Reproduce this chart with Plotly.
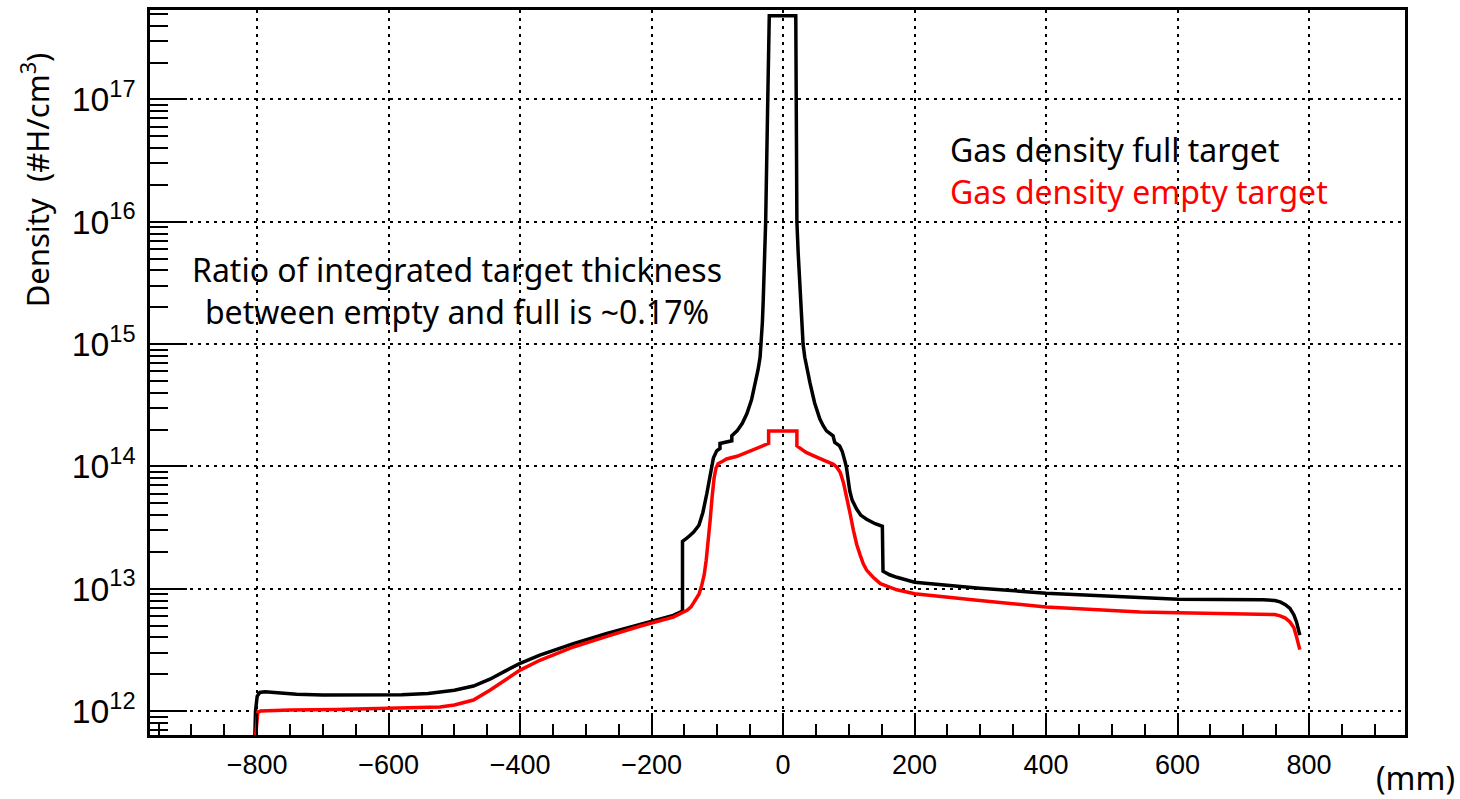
import plotly.graph_objects as go

# Gas density along the beam axis (mm), full target
x_full = [-804, -802.5, -800, -796, -788, -770, -740, -700, -640, -580, -540, -522,
          -500, -471, -446, -420, -400, -370, -319, -268, -218, -167, -153, -153,
          -146, -136, -128, -122, -116, -110, -106, -101, -96, -96, -78, -78, -70,
          -62, -55, -48, -43, -38, -35, -33.5, -31.5, -30.3, -28.5, -26.5, -23.3, -21,
          19.3, 19.5, 21, 23, 26, 28.5, 30.4, 33, 36, 41, 48, 55.8, 61, 66, 76, 78.6,
          86, 90, 94, 96.4, 101.4, 105, 111.6, 118, 127, 140, 151, 152, 162, 173,
          200, 250, 299, 400, 543, 601, 730, 748, 756, 764, 771, 777, 781, 786]
d_full = [5e11, 1.0e12, 1.32e12, 1.42e12, 1.44e12, 1.41e12, 1.37e12, 1.35e12, 1.35e12,
          1.36e12, 1.39e12, 1.42e12, 1.48e12, 1.6e12, 1.82e12, 2.16e12, 2.45e12,
          2.86e12, 3.56e12, 4.3e12, 5.08e12, 6.05e12, 6.56e12, 2.44e13, 2.6e13,
          2.9e13, 3.3e13, 4.2e13, 6e13, 9e13, 1.17e14, 1.34e14, 1.40e14, 1.54e14,
          1.62e14, 1.78e14, 1.95e14, 2.25e14, 2.7e14, 3.5e14, 4.6e14, 6.2e14, 7.8e14,
          1e15, 1.5e15, 2.2e15, 4.7e15, 1e16, 1e17, 4.84e17,
          4.84e17, 1e17, 1e16, 5.5e15, 2.5e15, 1.5e15, 1e15, 7.8e14, 6.3e14, 4.8e14,
          3.3e14, 2.45e14, 2.15e14, 1.95e14, 1.78e14, 1.57e14,
          1.47e14, 1.32e14, 1.11e14, 9.8e13, 6.3e13, 5.3e13, 4.5e13, 4.0e13, 3.7e13,
          3.4e13, 3.24e13, 1.39e13, 1.3e13, 1.24e13,
          1.13e13, 1.06e13, 1.01e13, 9.2e12, 8.45e12, 8.2e12, 8.13e12, 8.0e12, 7.8e12,
          7.4e12, 6.9e12, 6.1e12, 5.35e12, 4.17e12]

# Gas density along the beam axis (mm), empty target
x_empty = [-804, -801, -799, -795, -750, -680, -600, -522, -500, -471, -446, -420,
           -400, -370, -319, -268, -218, -167, -146, -140, -134, -128, -124, -120,
           -117, -114, -111, -108, -105, -102, -99, -92, -86, -70, -55, -40, -30,
           -22, -22, 21, 21, 35, 51, 65, 76.5, 82, 87, 92, 97, 102, 107, 112, 117,
           122, 127, 137, 148, 163, 173, 200, 250, 299, 400, 543, 601, 730, 748,
           756, 764, 771, 777, 781, 786]
d_empty = [5e11, 8e11, 9.8e11, 1.0e12, 1.02e12, 1.03e12, 1.06e12, 1.08e12, 1.12e12,
           1.23e12, 1.48e12, 1.85e12, 2.16e12, 2.6e12, 3.34e12, 4.08e12, 4.93e12,
           5.86e12, 6.66e12, 7.1e12, 7.9e12, 9.0e12, 1.05e13, 1.3e13, 1.7e13,
           2.4e13, 3.6e13, 5.6e13, 8.0e13, 9.7e13, 1.05e14, 1.1e14, 1.15e14, 1.21e14,
           1.31e14, 1.4e14, 1.47e14, 1.54e14, 1.95e14, 1.95e14, 1.47e14, 1.3e14,
           1.19e14, 1.1e14, 1.04e14, 9.8e13, 8.9e13, 7.3e13, 5.6e13, 4.1e13, 3.0e13,
           2.3e13, 1.9e13, 1.6e13, 1.42e13, 1.24e13, 1.1e13, 1.03e13, 9.8e12,
           9.1e12, 8.5e12, 8.0e12, 7.08e12, 6.44e12, 6.37e12, 6.25e12, 6.15e12,
           5.99e12, 5.75e12, 5.35e12, 4.8e12, 4.04e12, 3.18e12]

x_range = [-963, 946]
y_log_range = [11.804, 17.731]
x_tickvals = [-800, -600, -400, -200, 0, 200, 400, 600, 800]
x_ticktext = ["\u2212800", "\u2212600", "\u2212400", "\u2212200", "0", "200", "400", "600", "800"]

# plot-area geometry (px) used to place free text
W, H = 1460, 799
L, R, T, B = 150, 55, 7, 64
pw, ph = W - L - R, H - T - B


def px(xp):
    return (xp - L) / pw


def py(yp):
    return (H - B - yp) / ph


text_font = "Noto Sans, Open Sans, sans-serif"
tick_font = dict(family="Liberation Sans, Arial, sans-serif", size=27, color="black")

fig = go.Figure()
fig.add_trace(go.Scatter(x=x_full, y=d_full, mode="lines",
                         line=dict(color="black", width=3.5), showlegend=False))
fig.add_trace(go.Scatter(x=x_empty, y=d_empty, mode="lines",
                         line=dict(color="#ff0000", width=3.5), showlegend=False))

grid = dict(showgrid=True, gridcolor="black", gridwidth=2, griddash="3px,5px")

fig.update_xaxes(range=x_range, tickvals=x_tickvals, ticktext=x_ticktext,
                 ticks="inside", ticklen=22, tickwidth=2, tickcolor="black",
                 minor=dict(dtick=50, tick0=0, ticks="inside", ticklen=11,
                            tickwidth=2, tickcolor="black", showgrid=False),
                 showline=True, linewidth=3, linecolor="black", mirror=True,
                 zeroline=False, tickfont=tick_font, ticklabelstandoff=4, **grid)
fig.update_yaxes(type="log", range=y_log_range, dtick=1, exponentformat="power",
                 ticks="inside", ticklen=37, tickwidth=2, tickcolor="black",
                 minor=dict(dtick="D1", ticks="inside", ticklen=18, tickwidth=2,
                            tickcolor="black", showgrid=False),
                 showline=True, linewidth=3, linecolor="black", mirror=True,
                 zeroline=False, tickfont=tick_font, ticklabelstandoff=6, **grid)

annotations = [
    dict(text="Gas density full target<br>"
              "<span style='color:#ff0000'>Gas density empty target</span>",
         x=px(948), y=py(168), xanchor="left", align="left",
         font=dict(family=text_font, size=32, color="black")),
    dict(text="Ratio of integrated target thickness<br>between empty and full is ~0.17%",
         x=px(457), y=py(289), xanchor="center", align="center",
         font=dict(family=text_font, size=32, color="black")),
    dict(text="Density  (#H/cm<sup>3</sup>)", x=px(35), y=py(178), textangle=-90,
         xanchor="center", font=dict(family=text_font, size=31, color="black")),
    dict(text="(mm)", x=px(1416), y=py(778), xanchor="center",
         font=dict(family=text_font, size=32, color="black")),
]
for a in annotations:
    a.update(xref="paper", yref="paper", showarrow=False, yanchor="middle")

fig.update_layout(width=W, height=H, margin=dict(l=L, r=R, t=T, b=B),
                  paper_bgcolor="white", plot_bgcolor="white",
                  annotations=annotations)

fig.write_html("out.html")
